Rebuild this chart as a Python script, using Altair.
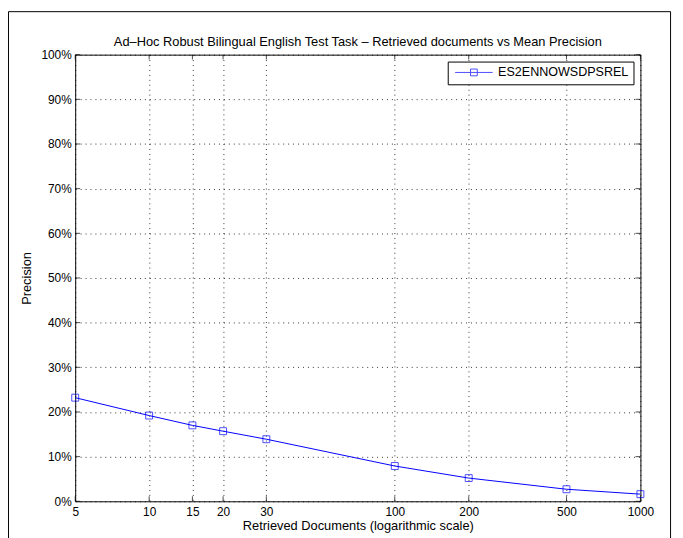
import altair as alt
import pandas as pd

# ---- data ----
docs = [5, 10, 15, 20, 30, 100, 200, 500, 1000]
precision = [0.232, 0.192, 0.170, 0.157, 0.139, 0.079, 0.052, 0.027, 0.016]
series = ["ES2ENNOWSDPSREL"] * len(docs)
x_ticks = [5, 10, 15, 20, 30, 100, 200, 500, 1000]
y_ticks = [0.0, 0.1, 0.2, 0.3, 0.4, 0.5, 0.6, 0.7, 0.8, 0.9, 1.0]

title_text = "Ad\u2013Hoc Robust Bilingual English Test Task \u2013 Retrieved documents vs Mean Precision"
x_title = "Retrieved Documents (logarithmic scale)"
y_title = "Precision"

W, H = 572, 452
FONT = "Liberation Sans"
BLUE = "#0000ff"

df = pd.DataFrame({"docs": docs, "precision": precision, "series": series})
xt_df = pd.DataFrame({"docs": x_ticks})
yt_df = pd.DataFrame({"precision": y_ticks})

x_scale = alt.Scale(type="log", domain=[5, 1000], nice=False)
y_scale = alt.Scale(domain=[0, 1], nice=False, zero=True)

x_enc = alt.X("docs:Q", scale=x_scale, title=x_title,
              axis=alt.Axis(values=x_ticks, format="d", labelFlush=False,
                            labelOverlap=False, grid=True, ticks=False,
                            domain=False, labelPadding=5, titlePadding=3))
y_enc = alt.Y("precision:Q", scale=y_scale, title=y_title,
              axis=alt.Axis(values=y_ticks, format=".0%", labelFlush=False,
                            labelOverlap=False, grid=True, ticks=False,
                            domain=False, labelPadding=4, titlePadding=8))

sym_path = "M-1,0H1M-0.18,-0.18H0.18V0.18H-0.18Z"
legend = alt.Legend(symbolType=sym_path, symbolSize=1444, symbolStrokeWidth=1,
                    symbolFillColor="transparent", symbolStrokeColor=BLUE,
                    symbolOffset=2, clipHeight=12)
color_enc = alt.Color("series:N", scale=alt.Scale(range=[BLUE]), title=None,
                      legend=legend)

line = alt.Chart(df).mark_line(strokeWidth=1).encode(x=x_enc, y=y_enc, color=color_enc)
points = alt.Chart(df).mark_point(shape="square", filled=False, size=49,
                                  strokeWidth=1).encode(x=x_enc, y=y_enc, color=color_enc)

# inward tick marks on all four sides (MATLAB box style)
tick_left = alt.Chart(yt_df).mark_tick(orient="horizontal", size=5, thickness=1,
                                       color="black").encode(
    y=alt.Y("precision:Q", scale=y_scale, title=y_title), x=alt.value(2.5))
tick_right = alt.Chart(yt_df).mark_tick(orient="horizontal", size=5, thickness=1,
                                        color="black").encode(
    y=alt.Y("precision:Q", scale=y_scale, title=y_title), x=alt.value(W - 2.5))
tick_bottom = alt.Chart(xt_df).mark_tick(orient="vertical", size=5, thickness=1,
                                         color="black").encode(
    x=alt.X("docs:Q", scale=x_scale, title=x_title), y=alt.value(H - 2.5))
tick_top = alt.Chart(xt_df).mark_tick(orient="vertical", size=5, thickness=1,
                                      color="black").encode(
    x=alt.X("docs:Q", scale=x_scale, title=x_title), y=alt.value(2.5))

# outer figure frame
frame = alt.Chart(pd.DataFrame({"frame": [0]})).mark_rect(
    fill="transparent", stroke="black", strokeWidth=1).encode(
    x=alt.value(-67.5), x2=alt.value(602.5), y=alt.value(-43.5), y2=alt.value(700))

# chart title drawn as a text mark
title_mark = alt.Chart(pd.DataFrame({"title": [title_text]})).mark_text(
    font=FONT, fontSize=13, color="black", align="center", baseline="alphabetic").encode(
    text="title:N", x=alt.value(W / 2), y=alt.value(-9))

chart = alt.layer(frame, title_mark, tick_left, tick_right, tick_bottom, tick_top,
                  line, points).properties(
    width=W, height=H,
    autosize=alt.AutoSizeParams(type="none"),
    padding={"left": 68, "top": 44, "right": 35, "bottom": 40},
    background="white",
).configure_view(
    stroke="black", strokeWidth=1
).configure_axis(
    labelFont=FONT, labelFontSize=12, labelColor="black",
    titleFont=FONT, titleFontSize=13, titleFontWeight="normal", titleColor="black",
    gridColor="#000000", gridDash=[1, 4], gridOpacity=0.8, gridWidth=1,
).configure_legend(
    orient="top-right", offset=7, padding=5, strokeColor="black", fillColor="white",
    cornerRadius=0, labelFont=FONT, labelFontSize=12.7, labelColor="black",
    labelOffset=5, labelLimit=300,
)

chart.save("out.html", embed_options={"renderer": "svg", "actions": False})
